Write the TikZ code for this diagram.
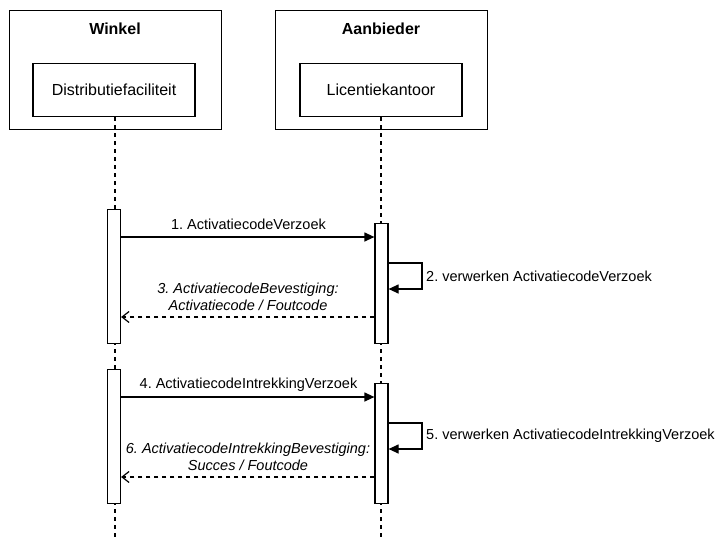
\documentclass[tikz,border=0pt]{standalone}
\usepackage{fontspec}
\setmainfont{Liberation Sans}
\usetikzlibrary{arrows.meta,calc}
\begin{document}
\frenchspacing
\begin{tikzpicture}[x=1pt,y=-1pt,
  every node/.style={font=\fontsize{14.5}{17}\selectfont, inner sep=0pt},
  outerbox/.style={draw, line width=1.2pt, minimum width=212pt, minimum height=119pt, anchor=north west},
  innerbox/.style={draw, line width=1.2pt, minimum width=162pt, minimum height=53pt, font=\fontsize{16}{19}\selectfont},
  title/.style={font=\fontsize{16}{19}\selectfont\bfseries},
  actbar/.style={draw, fill=white, line width=1.2pt, minimum width=13pt, anchor=north},
  lifeline/.style={line width=1.2pt, dash pattern=on 4pt off 4pt},
  msg/.style={line width=1.2pt, -{Triangle[length=10pt,width=9pt]}},
  reply/.style={line width=1.2pt, dash pattern=on 4pt off 4pt, -{Straight Barb[length=7pt,width=11pt]}},
  lbl/.style={align=center},
  ilbl/.style={align=center, font=\fontsize{14.5}{17}\selectfont\itshape}
]
\useasboundingbox (0,0) rectangle (720,541);

% participants
\node[outerbox] (winkel) at (9,10) {};
\node[title] (winkelT) at (115,28.5) {Winkel};
\node[innerbox] (distr) at (114,90) {Distributiefaciliteit};

\node[outerbox] (aanb) at (275,10) {};
\node[title] (aanbT) at (381,28.5) {Aanbieder};
\node[innerbox] (lic) at (381,90) {Licentiekantoor};

% lifeline end points
\coordinate (lendL) at (115,541);
\coordinate (lendR) at (381,541);
\draw[lifeline] (distr.south -| lendL) -- (lendL);
\draw[lifeline] (lic.south) -- (lendR);

% activation bars
\node[actbar, minimum height=134pt] (aL1) at (114,209) {};
\node[actbar, minimum height=120pt] (aR1) at (381.5,223) {};
\node[actbar, minimum height=134pt] (aL2) at (114,369) {};
\node[actbar, minimum height=120pt] (aR2) at (381.5,383) {};

% message 1
\draw[msg] (aL1.east |- 0,237) -- (aR1.west |- 0,237);
\node[lbl] (m1) at (248.5,224.5) {1. ActivatiecodeVerzoek};

% self message 2
\coordinate (s2a) at (422,263);
\coordinate (s2b) at (422,289);
\draw[msg] (aR1.east |- s2a) -- (s2a) -- (s2b) -- (aR1.east |- s2b);
\node[lbl, anchor=west] (m2) at (426,276) {2. verwerken ActivatiecodeVerzoek};

% reply 3
\draw[reply] (aR1.west |- 0,317) -- (aL1.east |- 0,317);
\node[ilbl] (m3) at (248,296.5) {3. ActivatiecodeBevestiging:\\Activatiecode / Foutcode};

% message 4
\draw[msg] (aL2.east |- 0,397) -- (aR2.west |- 0,397);
\node[lbl] (m4) at (248.5,384.5) {4. ActivatiecodeIntrekkingVerzoek};

% self message 5
\coordinate (s5a) at (422,423);
\coordinate (s5b) at (422,449);
\draw[msg] (aR2.east |- s5a) -- (s5a) -- (s5b) -- (aR2.east |- s5b);
\node[lbl, anchor=west] (m5) at (426,436) {5. verwerken ActivatiecodeIntrekkingVerzoek};

% reply 6
\draw[reply] (aR2.west |- 0,477) -- (aL2.east |- 0,477);
\node[ilbl] (m6) at (248,456.5) {6. ActivatiecodeIntrekkingBevestiging:\\Succes / Foutcode};
\end{tikzpicture}
\end{document}
